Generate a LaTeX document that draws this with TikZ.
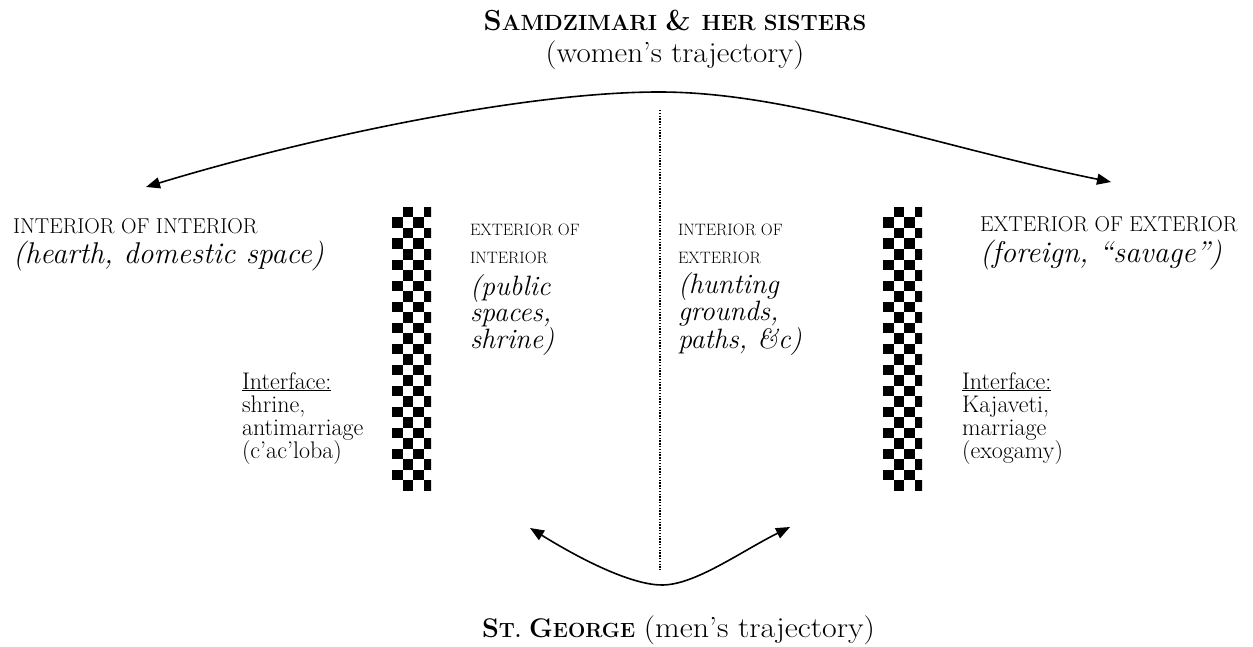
\documentclass[tikz,border=0pt]{standalone}
\usepackage{fontspec}
\usepackage{graphicx}
\usetikzlibrary{arrows.meta}
\tikzset{
 txt/.style={inner sep=0pt, outer sep=0pt, anchor=base west},
 caps/.style={txt, font=\fontsize{21.5}{28}\selectfont},
 midcaps/.style={txt, align=left, font=\fontsize{16.5}{28}\selectfont},
 ital/.style={txt, align=left, font=\fontsize{28}{26.5}\selectfont\itshape},
 outital/.style={txt, font=\fontsize{30}{30}\selectfont\itshape},
 iface/.style={txt, align=left, font=\fontsize{24}{23}\selectfont},
 reg/.style={txt, font=\fontsize{29}{30}\selectfont},
 arc/.style={line width=1.6pt, {Triangle[length=14pt,width=11pt]}-{Triangle[length=14pt,width=11pt]}},
 sep/.style={line width=1.4pt, dash pattern=on 1.4pt off 1.4pt},
}
\newcommand{\bigC}{\fontsize{29}{30}\selectfont}
\newcommand{\smC}{\fontsize{22}{30}\selectfont}
\newcommand{\bigG}{\fontsize{27}{30}\selectfont}
\newcommand{\smG}{\fontsize{20.5}{30}\selectfont}
\newcommand{\hstretch}[2]{\scalebox{#1}[1]{#2}}
\begin{document}
\begin{tikzpicture}[x=1pt,y=-1pt]
\useasboundingbox[fill=white] (0,0) rectangle (1253,647);
% titles
\node[txt, anchor=base, font=\bfseries] (title) at (675,31) {\bigC S\smC AMDZIMARI \bigC\& \smC HER SISTERS};
\node[reg, anchor=base] (women) at (675,63) {\hstretch{1.07}{(women's trajectory)}};
\node[txt, font=\bfseries] (george) at (482,637) {\bigG S\smG T. \bigG G\smG EORGE\mdseries\fontsize{29}{30}\selectfont{} \hstretch{1.1}{(men's trajectory)}};
% left
\node[caps] (ii) at (13,234) {INTERIOR OF INTERIOR};
\node[outital] (iih) at (13,263) {(hearth, domestic space)};
% middle left
\node[midcaps] (ei) at (470,263) {EXTERIOR OF\\INTERIOR};
\node[ital] (eip) at (470,348) {(public\\spaces,\\shrine)};
% middle right
\node[midcaps] (ie) at (678,263) {INTERIOR OF\\EXTERIOR};
\node[ital] (ieh) at (678,348) {(hunting\\grounds,\\paths, \&c)};
% right
\node[caps] (ee) at (980,232) {EXTERIOR OF EXTERIOR};
\node[outital] (eef) at (980,262) {(foreign, ``savage'')};
% interfaces
\node[iface] (ifl) at (242,458) {\underline{Interface:}\\shrine,\\antimarriage\\(c'ac'loba)};
\node[iface] (ifr) at (962,458) {\underline{Interface:}\\Kajaveti,\\marriage\\(exogamy)};
% checker columns
\foreach \X in {392,883} {
 \begin{scope}
 \clip (\X,207) rectangle ++(39,283.5);
 \foreach \r in {0,...,26} {
  \foreach \c in {0,...,3} {
   \pgfmathtruncatemacro\chk{mod(\r+\c,2)}
   \ifnum\chk=1 \fill (\X+\c*10.5,207+\r*10.5) rectangle ++(10.5,10.5); \fi
  }
 }
 \end{scope}
}
% dotted divider
\coordinate (dt) at (660,110);
\coordinate (db) at (660,570);
\draw[sep] (dt) -- (db);
% women's trajectory
\coordinate (tl) at (146,187);
\coordinate (tp) at (659,92);
\coordinate (tr) at (1111,182);
\draw[arc] (tl) .. controls (300,140) and (520,92) .. (tp) .. controls (790,92) and (930,145) .. (tr);
% men's trajectory
\coordinate (bl) at (530,528);
\coordinate (bm) at (662,585);
\coordinate (br) at (790,527);
\draw[arc] (bl) .. controls (590,565) and (635,585) .. (bm) .. controls (695,585) and (740,552) .. (br);
\end{tikzpicture}
\end{document}
